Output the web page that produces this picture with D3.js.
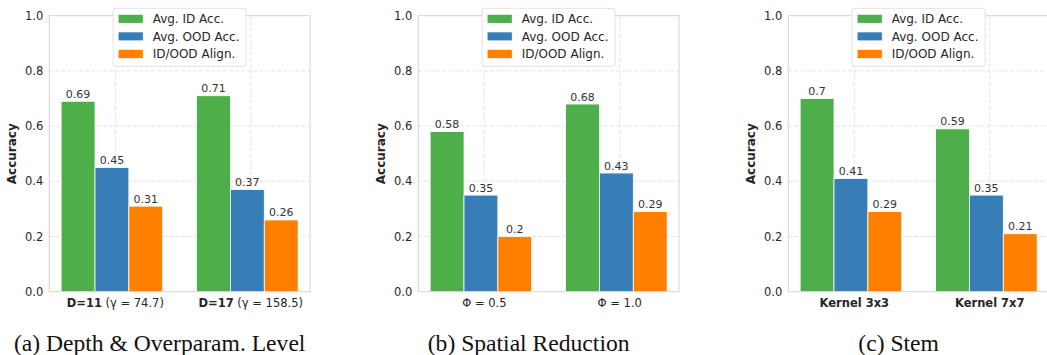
<!DOCTYPE html>
<html>
<head>
<meta charset="utf-8">
<script src="https://cdn.jsdelivr.net/npm/d3@7/dist/d3.min.js"></script>
<style>
  html, body { margin: 0; padding: 0; background: #fff; }
  svg { display: block; }
</style>
</head>
<body>
<svg id="chart" width="1047" height="355"></svg>
<script>
// Series shown in every panel
const seriesNames = ["Avg. ID Acc.", "Avg. OOD Acc.", "ID/OOD Align."];
const seriesColors = ["#4daf4a", "#377eb8", "#ff7f00"];

// One entry per panel: [first category, second category]
const panelCaptions = ["(a) Depth & Overparam. Level", "(b) Spatial Reduction", "(c) Stem"];
const avgIdAcc = [[0.69, 0.71], [0.58, 0.68], [0.7, 0.59]];
const avgOodAcc = [[0.45, 0.37], [0.35, 0.43], [0.41, 0.35]];
const idOodAlign = [[0.31, 0.26], [0.2, 0.29], [0.29, 0.21]];

// Category labels, split into runs so parts can be bold
const categoryLabels = [
  [[{ t: "D=11", bold: true }, { t: " (γ = 74.7)" }], [{ t: "D=17", bold: true }, { t: " (γ = 158.5)" }]],
  [[{ t: "Φ = 0.5" }], [{ t: "Φ = 1.0" }]],
  [[{ t: "Kernel 3x3", bold: true }], [{ t: "Kernel 7x7", bold: true }]]
];
const yTicks = [0.0, 0.2, 0.4, 0.6, 0.8, 1.0];
const yLabel = "Accuracy";

const svg = d3.select("#chart");
const font = "'DejaVu Sans', sans-serif";

const panelLeft = [49.3, 418.3, 788.3];
const panelWidth = 260.7;
const plotTop = 15.7, plotBottom = 291.7;
const barW = 0.25;

const y = d3.scaleLinear().domain([0, 1]).range([plotBottom, plotTop]);

panelLeft.forEach((left, p) => {
  const g = svg.append("g");
  const x = d3.scaleLinear().domain([-0.4625, 1.4625]).range([left, left + panelWidth]);
  const tickPos = [0.025, 1.025];

  // grid
  const grid = g.append("g");
  grid.selectAll("line.h").data(yTicks.filter(v => v > 0 && v < 1)).join("line")
    .attr("x1", left).attr("x2", left + panelWidth)
    .attr("y1", d => y(d)).attr("y2", d => y(d))
    .attr("stroke", "#dcdcdc").attr("stroke-width", 0.8).attr("stroke-dasharray", "4,2");
  grid.selectAll("line.v").data(tickPos).join("line")
    .attr("x1", d => x(d)).attr("x2", d => x(d))
    .attr("y1", plotTop).attr("y2", plotBottom)
    .attr("stroke", "#dcdcdc").attr("stroke-width", 0.8).attr("stroke-dasharray", "4,2");

  // bars
  const series = [avgIdAcc[p], avgOodAcc[p], idOodAlign[p]];
  series.forEach((vals, s) => {
    const off = (s - 1) * barW;
    g.append("g").selectAll("rect").data(vals).join("rect")
      .attr("x", (d, i) => x(i + off - barW / 2))
      .attr("width", x(barW) - x(0))
      .attr("y", d => y(d))
      .attr("height", d => y(0) - y(d))
      .attr("fill", seriesColors[s])
      .attr("stroke", "#fff").attr("stroke-width", 0.8);
    g.append("g").selectAll("text").data(vals).join("text")
      .attr("x", (d, i) => x(i + off))
      .attr("y", d => y(d) - 3.5)
      .attr("text-anchor", "middle")
      .attr("font-family", font).attr("font-size", 11)
      .attr("fill", "#333")
      .text(d => String(d));
  });

  // frame
  g.append("rect")
    .attr("x", left).attr("y", plotTop).attr("width", panelWidth).attr("height", plotBottom - plotTop)
    .attr("fill", "none").attr("stroke", "#d4d4d4").attr("stroke-width", 1);

  // y ticks
  g.append("g").selectAll("text").data(yTicks).join("text")
    .attr("x", left - 6).attr("y", d => y(d))
    .attr("dy", "0.36em")
    .attr("text-anchor", "end")
    .attr("font-family", font).attr("font-size", 11.5)
    .attr("fill", "#262626")
    .text(d => d.toFixed(1));

  // x tick labels
  categoryLabels[p].forEach((runs, i) => {
    const t = g.append("text")
      .attr("x", x(tickPos[i])).attr("y", 303)
      .attr("dy", "0.36em")
      .attr("text-anchor", "middle")
      .attr("font-family", font).attr("font-size", 11.5)
      .attr("fill", "#262626");
    runs.forEach(r => t.append("tspan").attr("font-weight", r.bold ? "bold" : "normal").text(r.t));
  });

  // y label
  g.append("text")
    .attr("transform", `translate(${left - 33},${(plotTop + plotBottom) / 2}) rotate(-90)`)
    .attr("text-anchor", "middle")
    .attr("font-family", font).attr("font-size", 12).attr("font-weight", "bold")
    .attr("fill", "#262626")
    .text(yLabel);

  // legend
  const cx = left + panelWidth / 2;
  const lw = 133, lh = 58;
  const lg = g.append("g").attr("transform", `translate(${cx - lw / 2},8.3)`);
  lg.append("rect").attr("width", lw).attr("height", lh).attr("rx", 3)
    .attr("fill", "#fff").attr("fill-opacity", 0.9)
    .attr("stroke", "#d9d9d9").attr("stroke-width", 0.8);
  seriesNames.forEach((name, s) => {
    const cy = 10.5 + s * 17.6;
    lg.append("rect").attr("x", 5).attr("y", cy - 4.4).attr("width", 25).attr("height", 8.8)
      .attr("fill", seriesColors[s]).attr("stroke", "#fff").attr("stroke-width", 0.6);
    lg.append("text").attr("x", 39.5).attr("y", cy).attr("dy", "0.36em")
      .attr("font-family", font).attr("font-size", 12).attr("fill", "#262626")
      .text(name);
  });

  // caption
  g.append("text")
    .attr("x", cx - 20).attr("y", 351)
    .attr("text-anchor", "middle")
    .attr("font-family", "'Liberation Serif', 'Times New Roman', serif")
    .attr("font-size", 23.6)
    .attr("fill", "#111")
    .text(panelCaptions[p]);
});
</script>
</body>
</html>
